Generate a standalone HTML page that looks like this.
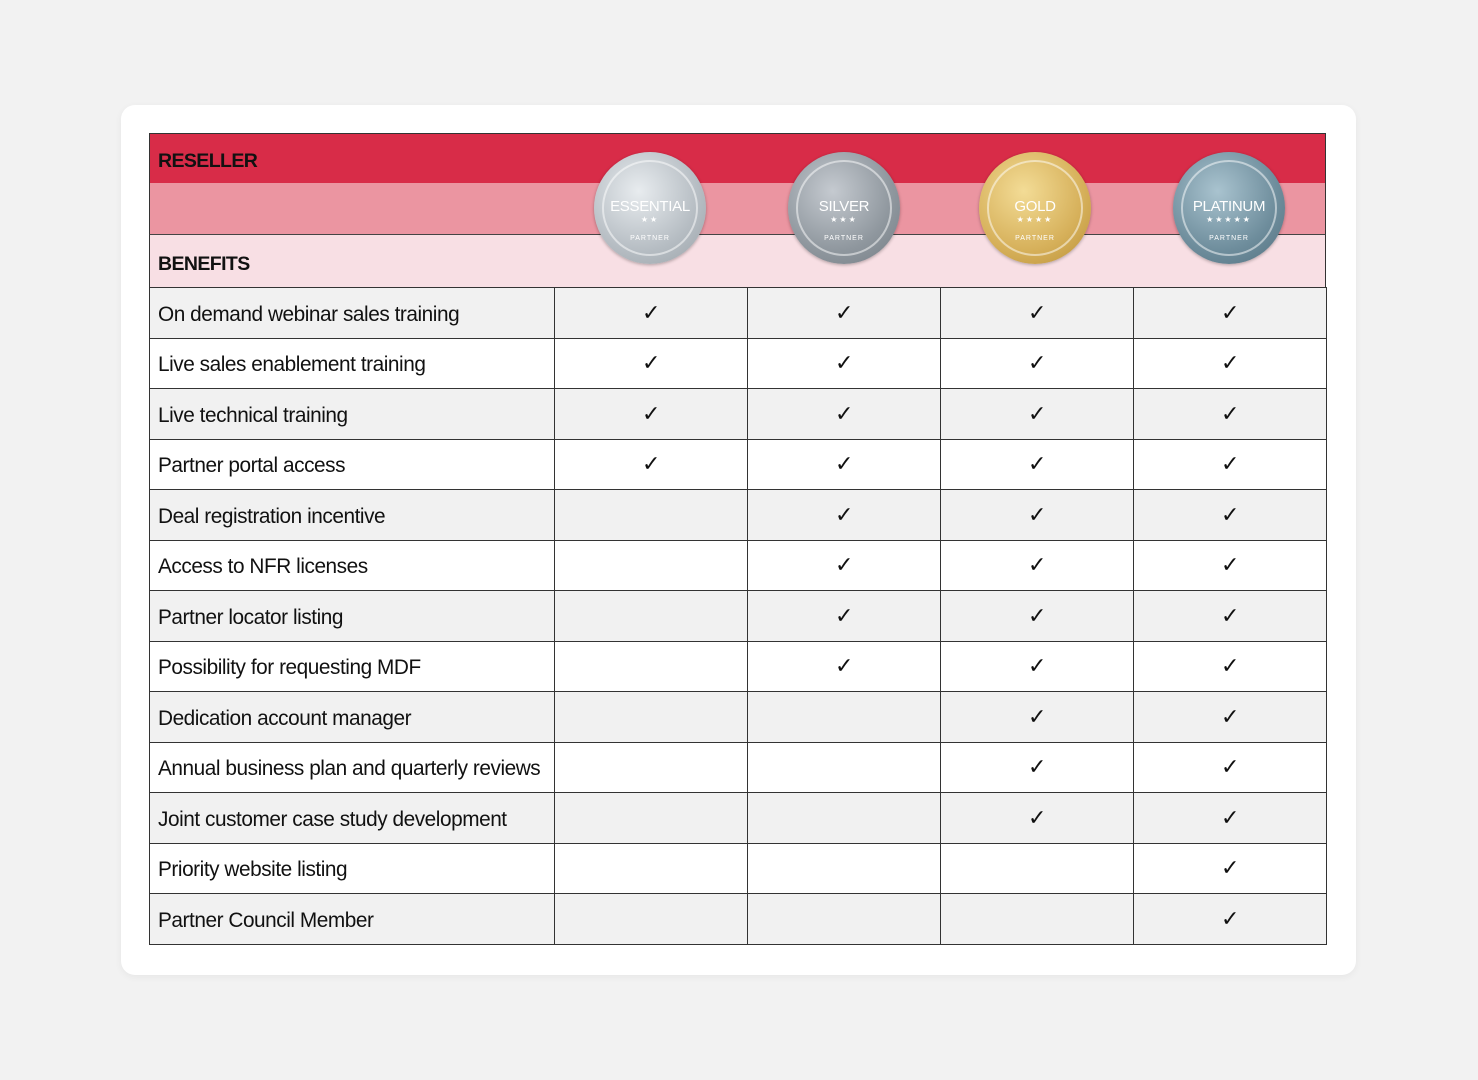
<!DOCTYPE html>
<html><head><meta charset="utf-8"><style>
*{margin:0;padding:0;box-sizing:border-box}
body{width:1478px;height:1080px;background:#f2f2f2;font-family:"Liberation Sans",sans-serif;position:relative;overflow:hidden}
.card{position:absolute;left:121px;top:105px;width:1235px;height:870px;background:#fff;border-radius:14px;box-shadow:0 2px 8px rgba(0,0,0,.05)}
.band{position:absolute;left:149px;width:1177px}
table{position:absolute;left:149px;top:287px;border-collapse:collapse;width:1178px}
td{border:1.5px solid #333;height:50.5px;font-size:20.8px;color:#111;letter-spacing:-0.45px;padding-top:4px}
td:first-child{width:405px;padding-left:8px}
td.c{width:193px;text-align:center;font-size:22px;padding-top:0}
tr:nth-child(odd) td{background:#f1f1f1}
tr:nth-child(even) td{background:#fff}
.badge{position:absolute;top:152px;width:112px;height:112px;border-radius:50%;text-align:center;color:#fff;box-shadow:0 1px 3px rgba(0,0,0,.3)}
.badge .in{position:absolute;left:8px;top:8px;right:8px;bottom:8px;border-radius:50%;border:2px solid rgba(255,255,255,.5)}
.badge .t{position:absolute;left:0;right:0;top:46px;font-size:15px;letter-spacing:-0.3px}
.badge .s{position:absolute;left:0;right:0;top:63px;font-size:8px;letter-spacing:2px}
.badge .p{position:absolute;left:0;right:0;top:83px;font-size:7px;letter-spacing:1px}
</style></head><body>
<div class="card"></div>
<div class="band" style="top:133px;height:50px;background:#d82c48;border:1.5px solid #333;border-bottom:none"></div>
<div class="band" style="top:183px;height:52px;background:#eb95a1;border-left:1.5px solid #333;border-right:1.5px solid #333;border-bottom:1.5px solid #444"></div>
<div class="band" style="top:235px;height:52px;background:#f8dfe4;border-left:1.5px solid #333;border-right:1.5px solid #333"></div>
<div style="position:absolute;left:158px;top:150px;font-weight:bold;font-size:19.5px;letter-spacing:-0.6px;color:#111">RESELLER</div>
<div style="position:absolute;left:158px;top:253px;font-weight:bold;font-size:19.5px;letter-spacing:-0.6px;color:#111">BENEFITS</div>
<div class="badge" style="left:594px;background:radial-gradient(circle at 40% 35%,#e8ecef,#b6bdc3 60%,#9aa2a8)"><div class="in"></div><div class="t">ESSENTIAL</div><div class="s">★★</div><div class="p">PARTNER</div></div>
<div class="badge" style="left:788px;background:radial-gradient(circle at 40% 35%,#c5cad0,#8f979e 60%,#747c84)"><div class="in"></div><div class="t">SILVER</div><div class="s">★★★</div><div class="p">PARTNER</div></div>
<div class="badge" style="left:979px;background:radial-gradient(circle at 40% 35%,#f3dc96,#d6b05a 60%,#b98f36)"><div class="in"></div><div class="t">GOLD</div><div class="s">★★★★</div><div class="p">PARTNER</div></div>
<div class="badge" style="left:1173px;background:radial-gradient(circle at 40% 35%,#a9c3cf,#6e8d9c 60%,#52707f)"><div class="in"></div><div class="t">PLATINUM</div><div class="s">★★★★★</div><div class="p">PARTNER</div></div>
<table>
<tr><td>On demand webinar sales training</td><td class="c">✓</td><td class="c">✓</td><td class="c">✓</td><td class="c">✓</td></tr>
<tr><td>Live sales enablement training</td><td class="c">✓</td><td class="c">✓</td><td class="c">✓</td><td class="c">✓</td></tr>
<tr><td>Live technical training</td><td class="c">✓</td><td class="c">✓</td><td class="c">✓</td><td class="c">✓</td></tr>
<tr><td>Partner portal access</td><td class="c">✓</td><td class="c">✓</td><td class="c">✓</td><td class="c">✓</td></tr>
<tr><td>Deal registration incentive</td><td class="c"></td><td class="c">✓</td><td class="c">✓</td><td class="c">✓</td></tr>
<tr><td>Access to NFR licenses</td><td class="c"></td><td class="c">✓</td><td class="c">✓</td><td class="c">✓</td></tr>
<tr><td>Partner locator listing</td><td class="c"></td><td class="c">✓</td><td class="c">✓</td><td class="c">✓</td></tr>
<tr><td>Possibility for requesting MDF</td><td class="c"></td><td class="c">✓</td><td class="c">✓</td><td class="c">✓</td></tr>
<tr><td>Dedication account manager</td><td class="c"></td><td class="c"></td><td class="c">✓</td><td class="c">✓</td></tr>
<tr><td>Annual business plan and quarterly reviews</td><td class="c"></td><td class="c"></td><td class="c">✓</td><td class="c">✓</td></tr>
<tr><td>Joint customer case study development</td><td class="c"></td><td class="c"></td><td class="c">✓</td><td class="c">✓</td></tr>
<tr><td>Priority website listing</td><td class="c"></td><td class="c"></td><td class="c"></td><td class="c">✓</td></tr>
<tr><td>Partner Council Member</td><td class="c"></td><td class="c"></td><td class="c"></td><td class="c">✓</td></tr>
</table>
</body></html>
